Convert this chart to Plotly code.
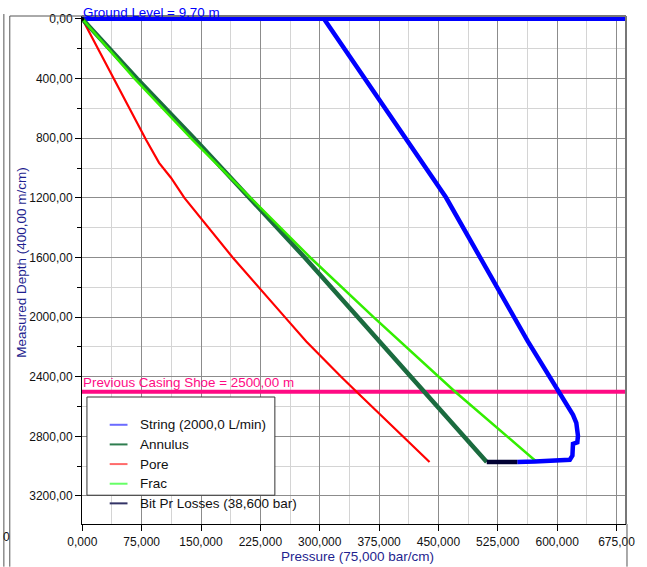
import plotly.graph_objects as go

# Well pressure profiles: pressure (bar) vs measured depth (m)
string_p = [305.5, 409.6, 459.6, 563.0, 601.3, 620.0, 624.2, 626.3, 625.5, 620.0, 619.3, 616.0, 572.0, 549.6]
string_d = [0, 810, 1198, 2163, 2496, 2656, 2709, 2796, 2840, 2851, 2929, 2957, 2969, 2972]

annulus_p = [0, 69.0, 143.0, 212.0, 281.0, 348.0, 415.0, 431.0, 511.0]
annulus_d = [0, 400, 810, 1200, 1600, 2000, 2400, 2496, 2972]

pore_p = [0, 80.5, 97.0, 104.6, 112.0, 129.0, 190.0, 256.0, 283.0, 327.0, 345.5, 438.75]
pore_d = [0, 810, 965, 1018, 1065, 1200, 1600, 2000, 2163, 2400, 2496, 2972]

frac_p = [0, 66.0, 139.0, 213.0, 288.0, 368.0, 450.0, 470.0, 574.3]
frac_d = [0, 400, 810, 1200, 1600, 2000, 2400, 2496, 2972]

bit_loss = 38.6          # bar
bit_p = [annulus_p[-1], annulus_p[-1] + bit_loss]
bit_d = [annulus_d[-1], annulus_d[-1]]

ground_level = 0
casing_shoe = 2500

x_ticks = [0, 75, 150, 225, 300, 375, 450, 525, 600, 675]
x_ticklabels = ["0,000", "75,000", "150,000", "225,000", "300,000", "375,000",
                "450,000", "525,000", "600,000", "675,00"]
y_ticks = [0, 400, 800, 1200, 1600, 2000, 2400, 2800, 3200]
y_ticklabels = ["0,00", "400,00", "800,00", "1200,00", "1600,00", "2000,00",
                "2400,00", "2800,00", "3200,00"]

legend_items = [
    ("String (2000,0 L/min)", "#6b6bff"),
    ("Annulus", "#2e7d4f"),
    ("Pore", "#ff6b6b"),
    ("Frac", "#66ff66"),
    ("Bit Pr Losses (38,600 bar)", "#333366"),
]

FONT = "Liberation Sans, Arial, sans-serif"
NAVY = "#1f1f8f"

fig = go.Figure()

# reference lines: ground level and previous casing shoe
fig.add_trace(go.Scatter(x=[-5, 700], y=[casing_shoe, casing_shoe], mode="lines",
                         line=dict(color="#ff0a84", width=4), hoverinfo="skip"))
fig.add_trace(go.Scatter(x=[-5, 700], y=[ground_level, ground_level], mode="lines",
                         line=dict(color="#0000ff", width=4), hoverinfo="skip"))

fig.add_trace(go.Scatter(x=pore_p, y=pore_d, mode="lines",
                         line=dict(color="#ff0000", width=2.2)))
fig.add_trace(go.Scatter(x=annulus_p, y=annulus_d, mode="lines",
                         line=dict(color="#1b6b3f", width=4.5)))
fig.add_trace(go.Scatter(x=frac_p, y=frac_d, mode="lines",
                         line=dict(color="#33ee00", width=2.5)))
fig.add_trace(go.Scatter(x=string_p, y=string_d, mode="lines",
                         line=dict(color="#0000ff", width=4.5)))
fig.add_trace(go.Scatter(x=bit_p, y=bit_d, mode="lines",
                         line=dict(color="#000033", width=4.5)))
fig.add_trace(go.Scatter(x=[0], y=[0], mode="markers",
                         marker=dict(color="black", size=4)))

fig.update_layout(
    width=647, height=567,
    margin=dict(l=82, r=15, t=12, b=43),
    paper_bgcolor="white", plot_bgcolor="white",
    showlegend=False,
    font=dict(family=FONT, size=12, color="#111111"),
    xaxis=dict(
        range=[-0.4, 687], tickvals=x_ticks, ticktext=x_ticklabels,
        ticks="outside", ticklen=6, tickcolor="black", ticklabelstandoff=1,
        showgrid=True, gridcolor="#8c8c8c", gridwidth=1,
        minor=dict(dtick=37.5, tick0=0, showgrid=True, gridcolor="#d4d4d4", ticks=""),
        showline=True, linecolor="black", linewidth=1,
        zeroline=False,
    ),
    yaxis=dict(
        range=[3388, -20], tickvals=y_ticks, ticktext=y_ticklabels,
        ticks="outside", ticklen=6, tickcolor="black",
        showgrid=True, gridcolor="#8c8c8c", gridwidth=1,
        minor=dict(dtick=200, tick0=0, showgrid=True, gridcolor="#d4d4d4",
                   ticks="outside", ticklen=4, tickcolor="black"),
        showline=True, linecolor="black", linewidth=1,
        zeroline=False,
    ),
)

shapes = []
# plot frame top and right edges
shapes.append(dict(type="line", xref="paper", yref="paper", x0=0, x1=1, y0=1, y1=1,
                   line=dict(color="#777777", width=2)))
shapes.append(dict(type="line", xref="paper", yref="paper", x0=1, x1=1, y0=0, y1=1,
                   line=dict(color="#777777", width=2)))
# outer window frame
px = lambda v: (v - 82) / 550.0
py = lambda v: (524 - v) / 512.0
shapes.append(dict(type="line", xref="paper", yref="paper", x0=px(9), x1=px(82), y0=py(12), y1=py(12),
                   line=dict(color="#555555", width=1)))
shapes.append(dict(type="line", xref="paper", yref="paper", x0=px(9), x1=px(9), y0=py(12), y1=py(567),
                   line=dict(color="#555555", width=1)))
shapes.append(dict(type="line", xref="paper", yref="paper", x0=px(3), x1=px(3), y0=py(10), y1=py(567),
                   line=dict(color="#555555", width=1)))
shapes.append(dict(type="line", xref="paper", yref="paper", x0=px(633), x1=px(633), y0=py(524), y1=py(567),
                   line=dict(color="#555555", width=1)))
# legend box
shapes.append(dict(type="rect", xref="paper", yref="paper", x0=px(87), x1=px(277), y0=py(396), y1=py(495),
                   line=dict(color="#333333", width=1), fillcolor="white", layer="above"))
annotations = []
for i, (name, col) in enumerate(legend_items):
    yy = 424 + i * 19.8
    shapes.append(dict(type="line", xref="paper", yref="paper", x0=px(110), x1=px(128),
                       y0=py(yy), y1=py(yy), line=dict(color=col, width=2), layer="above"))
    annotations.append(dict(xref="paper", yref="paper", x=px(139), y=py(yy), text=name,
                            showarrow=False, xanchor="left", yanchor="middle",
                            font=dict(family=FONT, size=13.5, color="#111111")))

annotations.append(dict(xref="paper", yref="paper", x=px(81), y=py(8), text="Ground Level = 9.70 m",
                        showarrow=False, xanchor="left", yanchor="middle",
                        font=dict(family=FONT, size=13.4, color="#0000ff")))
annotations.append(dict(xref="paper", yref="paper", x=px(81), y=py(381),
                        text="Previous Casing Shoe = 2500,00 m",
                        showarrow=False, xanchor="left", yanchor="middle",
                        font=dict(family=FONT, size=13.4, color="#ff0a84")))
# axis titles
annotations.append(dict(xref="paper", yref="paper", x=px(361), y=py(557),
                        text="Pressure (75,000 bar/cm)", showarrow=False,
                        xanchor="center", yanchor="middle",
                        font=dict(family=FONT, size=13.5, color=NAVY)))
annotations.append(dict(xref="paper", yref="paper", x=px(20), y=py(260),
                        text="Measured Depth (400,00 m/cm)", showarrow=False, textangle=-90,
                        xanchor="center", yanchor="middle",
                        font=dict(family=FONT, size=13.5, color=NAVY)))
annotations.append(dict(xref="paper", yref="paper", x=px(0), y=py(537), text="0",
                        showarrow=False, xanchor="left", yanchor="middle",
                        font=dict(family=FONT, size=12, color="#111111")))
fig.update_layout(shapes=shapes, annotations=annotations)

fig.write_html("out.html")
